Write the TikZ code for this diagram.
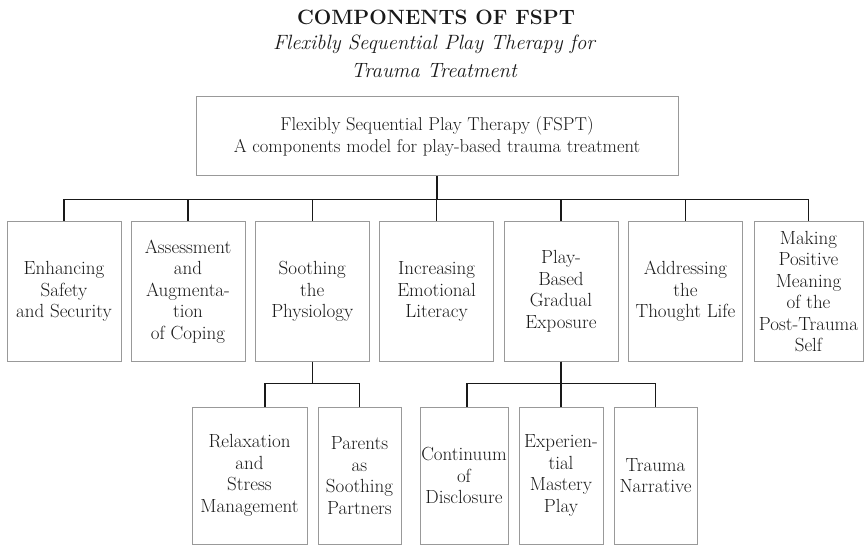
\documentclass[tikz,border=0pt]{standalone}
\usepackage{fontspec}
\usepackage{tikz}
\definecolor{boxgray}{gray}{0.6}
\definecolor{inkgray}{gray}{0.1}
\def\boxfont{\fontsize{19}{21.5}\selectfont}
\tikzset{
	compbox/.style={draw=boxgray, line width=1pt, text=inkgray, align=center, inner sep=1pt, font=\boxfont, minimum width=114pt, minimum height=139pt},
	subbox/.style={compbox, minimum height=137pt},
	link/.style={line width=1.2pt, color=black!90},
}

\begin{document}
\begin{tikzpicture}[x=1pt, y=-1pt]
			%%%%% START %%%%%
			\useasboundingbox (0,0) rectangle (864,545);
			
			\node[anchor=base, text=inkgray, font=\fontsize{20.7}{24}\selectfont\bfseries] (title) at (436,25) {COMPONENTS OF FSPT};
			\node[anchor=base, text=inkgray, font=\fontsize{20.7}{24}\selectfont\itshape] (subone) at (434,50) {Flexibly Sequential Play Therapy for};
			\node[anchor=base, text=inkgray, font=\fontsize{20.7}{24}\selectfont\itshape] (subtwo) at (434,78) {Trauma Treatment};
			
			\node[compbox, minimum width=482pt, minimum height=79pt, font=\fontsize{18.6}{21.5}\selectfont] (fspt) at (437,136.5) {Flexibly Sequential Play Therapy (FSPT)\\A components model for play-based trauma treatment};
			
			\node[compbox] (safety) at (64,291.5) {Enhancing\\Safety\\and Security};
			\node[compbox] (coping) at (188,291.5) {Assessment\\and\\Augmenta-\\tion\\of Coping};
			\node[compbox] (soothe) at (312.3,291.5) {Soothing\\the\\Physiology};
			\node[compbox] (literacy) at (436.6,291.5) {Increasing\\Emotional\\Literacy};
			\node[compbox] (expo) at (561,291.5) {Play-\\Based\\Gradual\\Exposure};
			\node[compbox] (thought) at (685.5,291.5) {Addressing\\the\\Thought Life};
			\node[compbox, minimum width=109pt] (meaning) at (808.5,291.5) {Making\\Positive\\Meaning\\of the\\Post-Trauma\\Self};
			
			\draw[link] (fspt.south) -- ++(0,23) -| (safety.north);
			\draw[link] (fspt.south) -- ++(0,23) -| (coping.north);
			\draw[link] (fspt.south) -- ++(0,23) -| (soothe.north);
			\draw[link] (fspt.south) -- ++(0,23) -| (literacy.north);
			\draw[link] (fspt.south) -- ++(0,23) -| (expo.north);
			\draw[link] (fspt.south) -- ++(0,23) -| (thought.north);
			\draw[link] (fspt.south) -- ++(0,23) -| (meaning.north);
			
			\node[subbox, minimum width=115pt] (relax) at (249.5,475.5) {Relaxation\\and\\Stress\\Management};
			\node[subbox, minimum width=83pt] (parents) at (359.5,475.5) {Parents\\as\\Soothing\\Partners};
			
			\draw[link] (soothe.south) -- ++(0,22) -| ([xshift=15.5pt]relax.north);
			\draw[link] (soothe.south) -- ++(0,22) -| (parents.north);
			
			\node[subbox, minimum width=88pt] (contin) at (464,475.5) {Continuum\\of\\Disclosure};
			\node[subbox, minimum width=84pt] (mastery) at (561,475.5) {Experien-\\tial\\Mastery\\Play};
			\node[subbox, minimum width=83pt] (narr) at (655.5,475.5) {Trauma\\Narrative};
			
			\draw[link] (expo.south) -- ++(0,22) -| ([xshift=3pt]contin.north);
			\draw[link] (expo.south) -- (mastery.north);
			\draw[link] (expo.south) -- ++(0,22) -| (narr.north);
			
			%%%%% END %%%%%
\end{tikzpicture}
\end{document}
